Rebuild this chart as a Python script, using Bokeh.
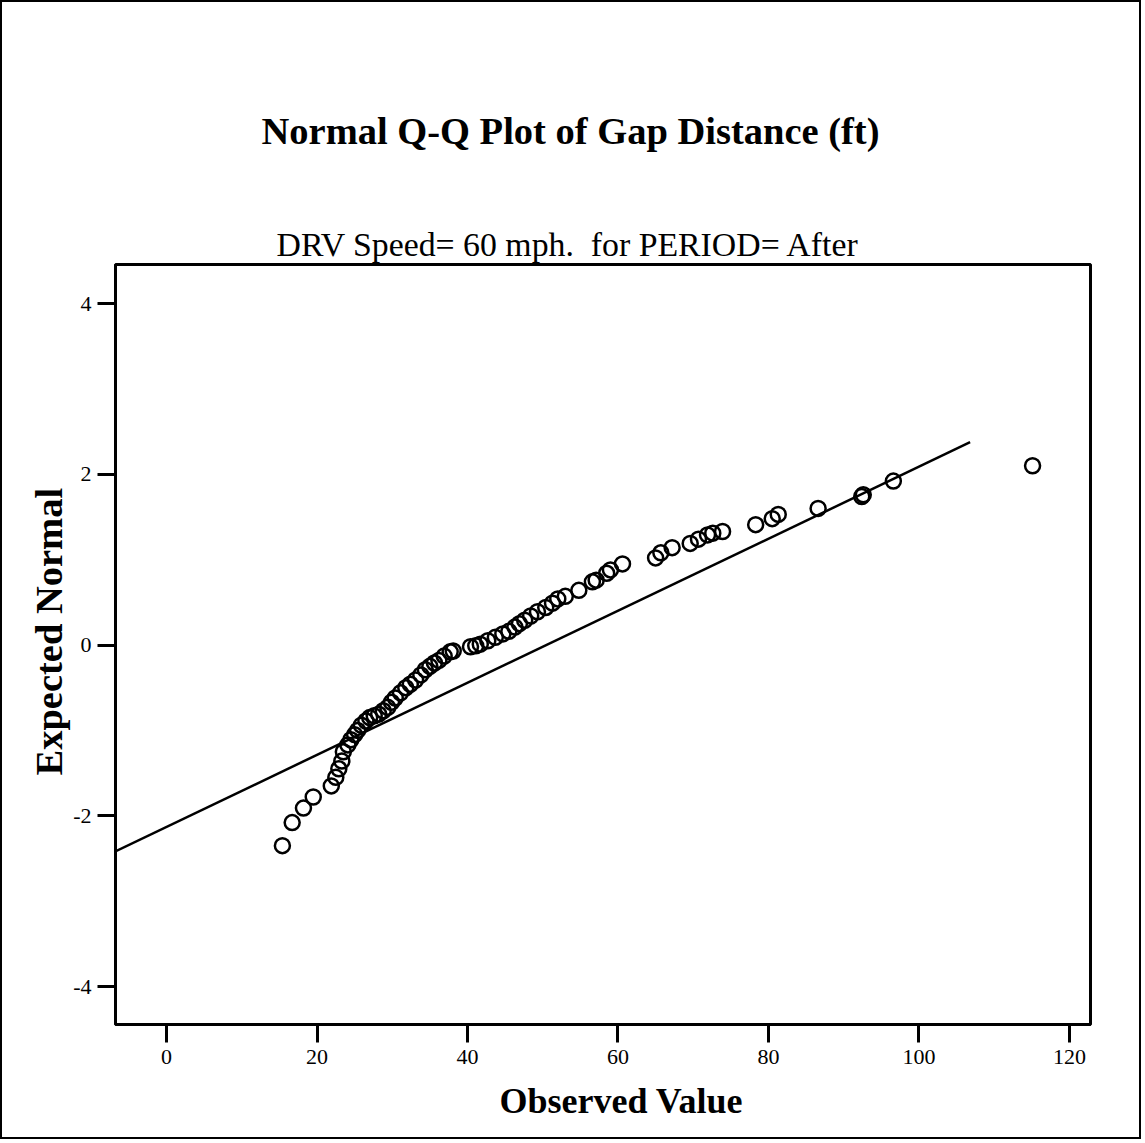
from bokeh.plotting import figure
from bokeh.models import Range1d, FixedTicker, Title
from bokeh.embed import file_html
from bokeh.resources import INLINE

# Data (observed gap distance, expected normal value)
observed = [15.4, 16.7, 18.2, 19.5, 21.9, 22.5, 22.9, 23.3, 23.5, 24.1, 24.5, 25.0,
            25.4, 25.9, 26.5, 27.0, 27.6, 28.2, 28.8, 29.4, 29.9, 30.4, 31.1, 31.8,
            32.4, 33.1, 33.8, 34.4, 35.0, 35.6, 36.2, 36.9, 37.7, 38.1, 40.4, 41.1,
            41.7, 42.7, 43.7, 44.7, 45.5, 46.3, 46.9, 47.6, 48.4, 49.3, 50.4, 51.3,
            52.0, 53.0, 54.8, 56.6, 57.1, 58.5, 59.0, 60.6, 65.0, 65.7, 67.2, 69.6,
            70.7, 71.9, 72.6, 73.9, 78.3, 80.5, 81.3, 86.6, 92.4, 92.6, 96.6, 115.1]
expected = [-2.35, -2.08, -1.91, -1.78, -1.65, -1.55, -1.45, -1.36, -1.25, -1.17, -1.11, -1.05,
            -1.00, -0.94, -0.89, -0.85, -0.83, -0.81, -0.77, -0.73, -0.67, -0.62, -0.56, -0.50,
            -0.46, -0.41, -0.35, -0.29, -0.25, -0.21, -0.18, -0.13, -0.08, -0.07, -0.02, -0.01,
            0.01, 0.05, 0.09, 0.13, 0.16, 0.21, 0.25, 0.29, 0.34, 0.39, 0.44, 0.49,
            0.54, 0.57, 0.64, 0.74, 0.76, 0.84, 0.88, 0.95, 1.02, 1.08, 1.14, 1.19,
            1.24, 1.29, 1.31, 1.33, 1.41, 1.48, 1.53, 1.60, 1.74, 1.76, 1.92, 2.10]

# Reference normal line parameters
line_mean = 50.5
line_sd = 23.7
line_x_ends = [-6.8, 106.8]

x_ticks = [0, 20, 40, 60, 80, 100, 120]
y_ticks = [-4, -2, 0, 2, 4]

title_text = "Normal Q-Q Plot of Gap Distance (ft)"
subtitle_text = "DRV Speed= 60 mph.\u00a0 for PERIOD= After"
x_label = "Observed Value"
y_label = "Expected Normal"

FONT = "Liberation Serif"

p = figure(width=1141, height=1139, output_backend="svg", toolbar_location=None,
           x_range=Range1d(-6.78, 122.8), y_range=Range1d(-4.445, 4.457),
           min_border_left=113, min_border_right=53, min_border_top=262,
           min_border_bottom=117, background_fill_color="white",
           border_fill_color="white",
           title=title_text)
p.styles = {"border": "2px solid black"}

p.title.text_font = FONT
p.title.text_font_style = "bold"
p.title.text_font_size = "38.5px"
p.title.text_color = "black"
p.title.align = "left"
p.title.offset = 146
p.title.standoff = 140

sub_title = Title(text=subtitle_text, text_font=FONT, text_font_style="normal",
                  text_font_size="33.8px", text_color="black", align="left",
                  offset=161, standoff=4)
p.add_layout(sub_title, "above")

p.grid.visible = False
p.outline_line_color = "black"
p.outline_line_width = 3

for ax, ticks in ((p.xaxis, x_ticks), (p.yaxis, y_ticks)):
    ax.ticker = FixedTicker(ticks=ticks)
    ax.major_label_overrides = {t: str(t) for t in ticks}
    ax.minor_tick_line_color = None
    ax.major_tick_in = 0
    ax.major_tick_out = 18
    ax.major_tick_line_width = 3
    ax.axis_line_width = 3
    ax.major_label_text_font = FONT
    ax.major_label_text_font_size = "22px"
    ax.major_label_text_color = "black"

p.xaxis.major_label_standoff = 7
p.yaxis.major_label_standoff = 6

# Axis titles (as titles so they can be offset like the reference)
x_title = Title(text=x_label, text_font=FONT, text_font_style="bold",
                text_font_size="36px", text_color="black", align="left",
                vertical_align="top", offset=384, standoff=28)
p.add_layout(x_title, "below")
y_title = Title(text=y_label, text_font=FONT, text_font_style="bold",
                text_font_size="38.5px", text_color="black", align="left",
                vertical_align="bottom", offset=249, standoff=2)
p.add_layout(y_title, "left")

line_y = [(x - line_mean) / line_sd for x in line_x_ends]
p.line(line_x_ends, line_y, line_color="black", line_width=2.5)

p.scatter(observed, expected, marker="circle", size=15, fill_color=None,
          line_color="black", line_width=2.5)

open("out.html", "w").write(file_html(p, INLINE))
